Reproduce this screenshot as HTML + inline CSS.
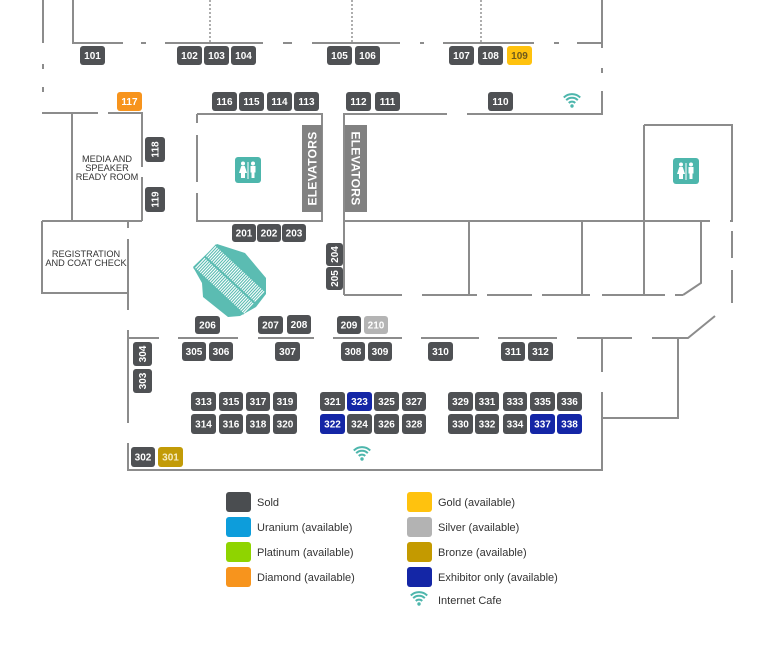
<!DOCTYPE html>
<html>
<head>
<meta charset="utf-8">
<style>
  html,body{margin:0;padding:0;background:#fff;}
  body{width:768px;height:651px;overflow:hidden;}
  svg{display:block;}
  .b text{font-family:"Liberation Sans",sans-serif;font-weight:bold;font-size:10px;fill:#fff;text-anchor:middle;}
  .lbl{font-family:"Liberation Sans",sans-serif;font-size:9.2px;fill:#333;text-anchor:middle;}
  .leg{font-family:"Liberation Sans",sans-serif;font-size:11px;fill:#333;}
  .el{font-family:"Liberation Sans",sans-serif;font-weight:bold;font-size:12px;fill:#fff;text-anchor:middle;letter-spacing:0.3px;}
</style>
</head>
<body>
<svg width="768" height="651" viewBox="0 0 768 651" xmlns="http://www.w3.org/2000/svg">
  <defs>
    <g id="wifi">
      <circle cx="0" cy="4" r="1.7" fill="#4db6ac"/>
      <path d="M-3.2,1 A4.5,4.5 0 0 1 3.2,1" fill="none" stroke="#4db6ac" stroke-width="2"/>
      <path d="M-5.8,-1.8 A8.2,8.2 0 0 1 5.8,-1.8" fill="none" stroke="#4db6ac" stroke-width="2"/>
      <path d="M-8.2,-4.5 A11.6,11.6 0 0 1 8.2,-4.5" fill="none" stroke="#4db6ac" stroke-width="2"/>
    </g>
    <g id="rest">
      <rect x="0" y="0" width="26" height="26" rx="3" fill="#4db6ac"/>
      <circle cx="8" cy="6.5" r="2" fill="#fff"/>
      <path d="M6.3,9 H9.7 L12,16 H10 V21 H6 V16 H4 Z" fill="#fff"/>
      <line x1="13" y1="5" x2="13" y2="22" stroke="#fff" stroke-width="1"/>
      <circle cx="18" cy="6.5" r="2" fill="#fff"/>
      <path d="M15.5,9 H20.5 V15.5 H19.5 V21 H16.5 V15.5 H15.5 Z" fill="#fff"/>
    </g>
  </defs>

  <!-- walls -->
  <g fill="none" stroke="#8c8c8c" stroke-width="2">
    <path d="M43 0 V43"/>
    <path d="M43 64 V69 M43 87 V92"/>
    <path d="M73 0 V43 H123"/>
    <path d="M141 43 H146"/>
    <path d="M165 43 H263"/>
    <path d="M283 43 H292"/>
    <path d="M312 43 H400"/>
    <path d="M420 43 H424"/>
    <path d="M443 43 H534"/>
    <path d="M554 43 H559"/>
    <path d="M577 43 H602"/>
    <path d="M602 0 V48"/>
    <path d="M602 68 V73"/>
    <path d="M602 91 V114 H467"/>
    <path d="M447 114 H344 V295"/>
    <path d="M42 113 H98"/>
    <path d="M108 113 H142 V167"/>
    <path d="M142 177 V221"/>
    <path d="M72 113 V221"/>
    <path d="M42 221 H142"/>
    <path d="M42 221 V293 H128"/>
    <path d="M128 221 V228"/>
    <path d="M128 239 V310"/>
    <path d="M128 330 V423"/>
    <path d="M128 443 V470 H602 V392"/>
    <path d="M602 372 V338"/>
    <path d="M197 114 H322 V221 H197 V193"/>
    <path d="M197 182 V135"/>
    <path d="M197 123 V114"/>
    <path d="M344 221 H710"/>
    <path d="M730 221 H733"/>
    <path d="M644 125 H732 V222"/>
    <path d="M732 231 V258"/>
    <path d="M732 270 V303"/>
    <path d="M644 125 V295"/>
    <path d="M469 221 V295"/>
    <path d="M582 221 V295"/>
    <path d="M701 221 V283 L683 295"/>
    <path d="M344 295 H402 M422 295 H477 M487 295 H532 M542 295 H590 M602 295 H665 M675 295 H683"/>
    <path d="M127 338 H159 M178 338 H238 M258 338 H314 M333 338 H402 M421 338 H479 M498 338 H557 M577 338 H632 M652 338 H688 L715 316"/>
    <path d="M678 338 V418 H602"/>
  </g>
  <!-- dotted -->
  <g stroke="#999" stroke-width="1.6" stroke-dasharray="2,2">
    <line x1="210" y1="0" x2="210" y2="43"/>
    <line x1="352" y1="0" x2="352" y2="43"/>
    <line x1="481" y1="0" x2="481" y2="43"/>
  </g>

  <!-- elevators -->
  <rect x="302" y="125" width="20" height="87" fill="#818181"/>
  <text class="el" transform="translate(316.5,168.5) rotate(-90)">ELEVATORS</text>
  <rect x="345" y="125" width="22" height="87" fill="#818181"/>
  <text class="el" transform="translate(351.5,168.5) rotate(90)">ELEVATORS</text>

  <!-- restrooms -->
  <use href="#rest" x="235" y="157"/>
  <use href="#rest" x="673" y="158"/>

  <!-- wifi -->
  <use href="#wifi" x="572" y="102"/>
  <use href="#wifi" x="362" y="455"/>

  <!-- room labels -->
  <text class="lbl" x="107" y="162">MEDIA AND</text>
  <text class="lbl" x="107" y="171">SPEAKER</text>
  <text class="lbl" x="107" y="180">READY ROOM</text>
  <text class="lbl" x="86" y="257">REGISTRATION</text>
  <text class="lbl" x="86" y="266">AND COAT CHECK</text>

  <!-- escalator -->
  <polygon points="217,244 245,253 266,278 266,294 256,307 240,316 228,317 203,297 202,283 193,267" fill="#5bbcb2"/>
  <g transform="translate(229.5,279.5) rotate(43)">
    <rect x="-34" y="-16.5" width="68" height="33" fill="#5bbcb2"/>
    <g stroke="#fff" stroke-width="1.1">
      <path d="M-32.5,-15 V-1 M-30.3,-15 V-1 M-28.1,-15 V-1 M-25.9,-15 V-1 M-23.7,-15 V-1 M-21.5,-15 V-1 M-19.3,-15 V-1 M-17.1,-15 V-1 M-14.9,-15 V-1 M-12.7,-15 V-1 M-10.5,-15 V-1 M-8.3,-15 V-1 M-6.1,-15 V-1 M-3.9,-15 V-1 M-1.7,-15 V-1 M0.5,-15 V-1 M2.7,-15 V-1 M4.9,-15 V-1 M7.1,-15 V-1 M9.3,-15 V-1 M11.5,-15 V-1 M13.7,-15 V-1 M15.9,-15 V-1 M18.1,-15 V-1 M20.3,-15 V-1 M22.5,-15 V-1 M24.7,-15 V-1 M26.9,-15 V-1 M29.1,-15 V-1 M31.3,-15 V-1 M33.3,-15 V-1"/>
      <path d="M-32.5,1 V15 M-30.3,1 V15 M-28.1,1 V15 M-25.9,1 V15 M-23.7,1 V15 M-21.5,1 V15 M-19.3,1 V15 M-17.1,1 V15 M-14.9,1 V15 M-12.7,1 V15 M-10.5,1 V15 M-8.3,1 V15 M-6.1,1 V15 M-3.9,1 V15 M-1.7,1 V15 M0.5,1 V15 M2.7,1 V15 M4.9,1 V15 M7.1,1 V15 M9.3,1 V15 M11.5,1 V15 M13.7,1 V15 M15.9,1 V15 M18.1,1 V15 M20.3,1 V15 M22.5,1 V15 M24.7,1 V15 M26.9,1 V15 M29.1,1 V15 M31.3,1 V15 M33.3,1 V15"/>
    </g>
  </g>

  <!-- booths -->
  <g class="b">
    <rect x="80" y="46" width="25" height="19" rx="3" fill="#4f5154"/><text x="92.5" y="59">101</text>
    <rect x="177" y="46" width="25" height="19" rx="3" fill="#4f5154"/><text x="189.5" y="59">102</text>
    <rect x="204" y="46" width="25" height="19" rx="3" fill="#4f5154"/><text x="216.5" y="59">103</text>
    <rect x="231" y="46" width="25" height="19" rx="3" fill="#4f5154"/><text x="243.5" y="59">104</text>
    <rect x="327" y="46" width="25" height="19" rx="3" fill="#4f5154"/><text x="339.5" y="59">105</text>
    <rect x="355" y="46" width="25" height="19" rx="3" fill="#4f5154"/><text x="367.5" y="59">106</text>
    <rect x="449" y="46" width="25" height="19" rx="3" fill="#4f5154"/><text x="461.5" y="59">107</text>
    <rect x="478" y="46" width="25" height="19" rx="3" fill="#4f5154"/><text x="490.5" y="59">108</text>
    <rect x="507" y="46" width="25" height="19" rx="3" fill="#ffc20e"/><text x="519.5" y="59" style="fill:#6e5a1c">109</text>
    <rect x="117" y="92" width="25" height="19" rx="3" fill="#f7941d"/><text x="129.5" y="105">117</text>
    <rect x="212" y="92" width="25" height="19" rx="3" fill="#4f5154"/><text x="224.5" y="105">116</text>
    <rect x="239" y="92" width="25" height="19" rx="3" fill="#4f5154"/><text x="251.5" y="105">115</text>
    <rect x="267" y="92" width="25" height="19" rx="3" fill="#4f5154"/><text x="279.5" y="105">114</text>
    <rect x="294" y="92" width="25" height="19" rx="3" fill="#4f5154"/><text x="306.5" y="105">113</text>
    <rect x="346" y="92" width="25" height="19" rx="3" fill="#4f5154"/><text x="358.5" y="105">112</text>
    <rect x="375" y="92" width="25" height="19" rx="3" fill="#4f5154"/><text x="387.5" y="105">111</text>
    <rect x="488" y="92" width="25" height="19" rx="3" fill="#4f5154"/><text x="500.5" y="105">110</text>
    <rect x="145" y="137" width="20" height="25" rx="3" fill="#4f5154"/><text transform="translate(158.5,149.5) rotate(-90)">118</text>
    <rect x="145" y="187" width="20" height="25" rx="3" fill="#4f5154"/><text transform="translate(158.5,199.5) rotate(-90)">119</text>
    <rect x="232" y="224" width="24" height="18" rx="3" fill="#4f5154"/><text x="244" y="236.5">201</text>
    <rect x="257" y="224" width="24" height="18" rx="3" fill="#4f5154"/><text x="269" y="236.5">202</text>
    <rect x="282" y="224" width="24" height="18" rx="3" fill="#4f5154"/><text x="294" y="236.5">203</text>
    <rect x="326" y="243" width="17" height="23" rx="3" fill="#4f5154"/><text transform="translate(338,254.5) rotate(-90)">204</text>
    <rect x="326" y="267" width="17" height="23" rx="3" fill="#4f5154"/><text transform="translate(338,278.5) rotate(-90)">205</text>
    <rect x="195" y="316" width="25" height="18" rx="3" fill="#4f5154"/><text x="207.5" y="328.5">206</text>
    <rect x="258" y="316" width="25" height="18" rx="3" fill="#4f5154"/><text x="270.5" y="328.5">207</text>
    <rect x="287" y="315" width="24" height="19" rx="3" fill="#4f5154"/><text x="299" y="328">208</text>
    <rect x="337" y="316" width="24" height="18" rx="3" fill="#4f5154"/><text x="349" y="328.5">209</text>
    <rect x="364" y="316" width="24" height="18" rx="3" fill="#b4b4b4"/><text x="376" y="328.5">210</text>
    <rect x="182" y="342" width="24" height="19" rx="3" fill="#4f5154"/><text x="194" y="355">305</text>
    <rect x="209" y="342" width="24" height="19" rx="3" fill="#4f5154"/><text x="221" y="355">306</text>
    <rect x="275" y="342" width="25" height="19" rx="3" fill="#4f5154"/><text x="287.5" y="355">307</text>
    <rect x="341" y="342" width="24" height="19" rx="3" fill="#4f5154"/><text x="353" y="355">308</text>
    <rect x="368" y="342" width="24" height="19" rx="3" fill="#4f5154"/><text x="380" y="355">309</text>
    <rect x="428" y="342" width="25" height="19" rx="3" fill="#4f5154"/><text x="440.5" y="355">310</text>
    <rect x="501" y="342" width="24" height="19" rx="3" fill="#4f5154"/><text x="513" y="355">311</text>
    <rect x="528" y="342" width="25" height="19" rx="3" fill="#4f5154"/><text x="540.5" y="355">312</text>
    <rect x="133" y="342" width="19" height="24" rx="3" fill="#4f5154"/><text transform="translate(146,354) rotate(-90)">304</text>
    <rect x="133" y="369" width="19" height="24" rx="3" fill="#4f5154"/><text transform="translate(146,381) rotate(-90)">303</text>
    <rect x="191" y="392" width="25" height="19" rx="3" fill="#4f5154"/><text x="203.5" y="405">313</text>
    <rect x="219" y="392" width="24" height="19" rx="3" fill="#4f5154"/><text x="231" y="405">315</text>
    <rect x="246" y="392" width="24" height="19" rx="3" fill="#4f5154"/><text x="258" y="405">317</text>
    <rect x="273" y="392" width="24" height="19" rx="3" fill="#4f5154"/><text x="285" y="405">319</text>
    <rect x="320" y="392" width="25" height="19" rx="3" fill="#4f5154"/><text x="332.5" y="405">321</text>
    <rect x="347" y="392" width="25" height="19" rx="3" fill="#1426a6"/><text x="359.5" y="405">323</text>
    <rect x="374" y="392" width="25" height="19" rx="3" fill="#4f5154"/><text x="386.5" y="405">325</text>
    <rect x="402" y="392" width="24" height="19" rx="3" fill="#4f5154"/><text x="414" y="405">327</text>
    <rect x="448" y="392" width="25" height="19" rx="3" fill="#4f5154"/><text x="460.5" y="405">329</text>
    <rect x="475" y="392" width="24" height="19" rx="3" fill="#4f5154"/><text x="487" y="405">331</text>
    <rect x="503" y="392" width="24" height="19" rx="3" fill="#4f5154"/><text x="515" y="405">333</text>
    <rect x="530" y="392" width="25" height="19" rx="3" fill="#4f5154"/><text x="542.5" y="405">335</text>
    <rect x="557" y="392" width="25" height="19" rx="3" fill="#4f5154"/><text x="569.5" y="405">336</text>
    <rect x="191" y="414" width="25" height="20" rx="3" fill="#4f5154"/><text x="203.5" y="427.5">314</text>
    <rect x="219" y="414" width="24" height="20" rx="3" fill="#4f5154"/><text x="231" y="427.5">316</text>
    <rect x="246" y="414" width="24" height="20" rx="3" fill="#4f5154"/><text x="258" y="427.5">318</text>
    <rect x="273" y="414" width="24" height="20" rx="3" fill="#4f5154"/><text x="285" y="427.5">320</text>
    <rect x="320" y="414" width="25" height="20" rx="3" fill="#1426a6"/><text x="332.5" y="427.5">322</text>
    <rect x="347" y="414" width="25" height="20" rx="3" fill="#4f5154"/><text x="359.5" y="427.5">324</text>
    <rect x="374" y="414" width="25" height="20" rx="3" fill="#4f5154"/><text x="386.5" y="427.5">326</text>
    <rect x="402" y="414" width="24" height="20" rx="3" fill="#4f5154"/><text x="414" y="427.5">328</text>
    <rect x="448" y="414" width="25" height="20" rx="3" fill="#4f5154"/><text x="460.5" y="427.5">330</text>
    <rect x="475" y="414" width="24" height="20" rx="3" fill="#4f5154"/><text x="487" y="427.5">332</text>
    <rect x="503" y="414" width="24" height="20" rx="3" fill="#4f5154"/><text x="515" y="427.5">334</text>
    <rect x="530" y="414" width="25" height="20" rx="3" fill="#1426a6"/><text x="542.5" y="427.5">337</text>
    <rect x="557" y="414" width="25" height="20" rx="3" fill="#1426a6"/><text x="569.5" y="427.5">338</text>
    <rect x="131" y="447" width="24" height="20" rx="3" fill="#4f5154"/><text x="143" y="460.5">302</text>
    <rect x="158" y="447" width="25" height="20" rx="3" fill="#c29b07"/><text x="170.5" y="460.5" style="fill:#f6ecc4">301</text>
  </g>

  <!-- legend -->
  <rect x="226" y="492" width="25" height="20" rx="3" fill="#4a4d50"/>
  <text class="leg" x="257" y="506">Sold</text>
  <rect x="226" y="517" width="25" height="20" rx="3" fill="#0d9ddb"/>
  <text class="leg" x="257" y="531">Uranium (available)</text>
  <rect x="226" y="542" width="25" height="20" rx="3" fill="#8fd400"/>
  <text class="leg" x="257" y="556">Platinum (available)</text>
  <rect x="226" y="567" width="25" height="20" rx="3" fill="#f7941d"/>
  <text class="leg" x="257" y="581">Diamond (available)</text>

  <rect x="407" y="492" width="25" height="20" rx="3" fill="#ffc20e"/>
  <text class="leg" x="438" y="506">Gold (available)</text>
  <rect x="407" y="517" width="25" height="20" rx="3" fill="#b3b3b3"/>
  <text class="leg" x="438" y="531">Silver (available)</text>
  <rect x="407" y="542" width="25" height="20" rx="3" fill="#c49a00"/>
  <text class="leg" x="438" y="556">Bronze (available)</text>
  <rect x="407" y="567" width="25" height="20" rx="3" fill="#1426a6"/>
  <text class="leg" x="438" y="581">Exhibitor only (available)</text>
  <use href="#wifi" x="419" y="600"/>
  <text class="leg" x="438" y="604">Internet Cafe</text>
</svg>
</body>
</html>
